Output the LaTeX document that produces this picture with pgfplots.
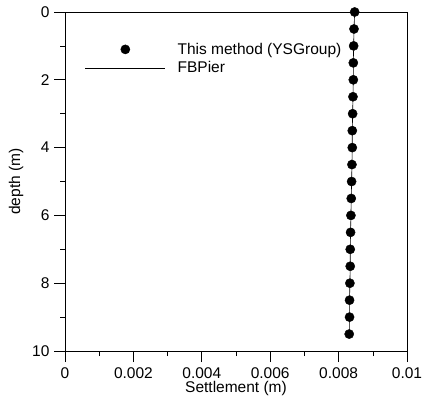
\documentclass[border=0pt]{standalone}
\usepackage{pgfplots}
\pgfplotsset{compat=1.18}
\usepackage{fontspec}
\setmainfont{Liberation Sans}
\pgfplotstableread{
d s
0 0.00847
0.5 0.00845
1 0.00844
1.5 0.00843
2 0.00843
2.5 0.00842
3 0.00841
3.5 0.00840
4 0.00840
4.5 0.00839
5 0.00838
5.5 0.00837
6 0.00836
6.5 0.00835
7 0.00834
7.5 0.00834
8 0.00833
8.5 0.00832
9 0.00832
9.5 0.00831
}\datatab
\begin{document}
\begin{tikzpicture}
\begin{axis}[
  scale only axis, width=342pt, height=339pt,
  font=\fontsize{15.5}{18}\selectfont,
  xmin=0, xmax=0.01, ymin=0, ymax=10, y dir=reverse,
  xtick={0,0.002,0.004,0.006,0.008,0.01},
  xticklabels={0,0.002,0.004,0.006,0.008,0.01},
  minor xtick={0.001,0.003,0.005,0.007,0.009},
  ytick={0,2,4,6,8,10},
  yticklabels={0,2,4,6,8,10},
  minor ytick={1,3,5,7,9},
  tick align=outside, tick pos=left,
  major tick length=11pt, minor tick length=5pt,
  xticklabel shift=2pt, yticklabel shift=1pt,
  minor tick style={black, line width=0.6pt},
  major tick style={black, line width=0.7pt},
  axis line style={line width=0.6pt},
  xlabel={Settlement (m)}, ylabel={depth (m)},
  xlabel style={at={(axis description cs:0.5,-0.112)}, anchor=center},
  ylabel style={at={(axis description cs:-0.143,0.5)}, anchor=center},
  scaled x ticks=false,
  clip=false,
  legend image code/.code={\draw[mark repeat=2,mark phase=2,#1] plot coordinates {(0pt,0pt) (40pt,0pt) (80pt,0pt)};},
  legend style={at={(0.058,0.915)}, anchor=north west, draw=none, fill=none, row sep=2pt, column sep=10pt,
    font=\fontsize{15.5}{18}\selectfont, inner sep=0pt},
  legend cell align=left,
]
\addplot[only marks, mark=*, mark size=4.6pt, black] table[x=s, y=d] {\datatab};
\addlegendentry{This method (YSGroup)}
\addplot[black, line width=0.6pt] table[x=s, y=d] {\datatab};
\addlegendentry{FBPier}
\end{axis}
\pgfresetboundingbox
\path (current axis.south west) ++(-65pt,-54pt) coordinate (bbA);
\path (current axis.north east) ++(15pt,12pt) coordinate (bbB);
\useasboundingbox (bbA) rectangle (bbB);
\end{tikzpicture}
\end{document}
